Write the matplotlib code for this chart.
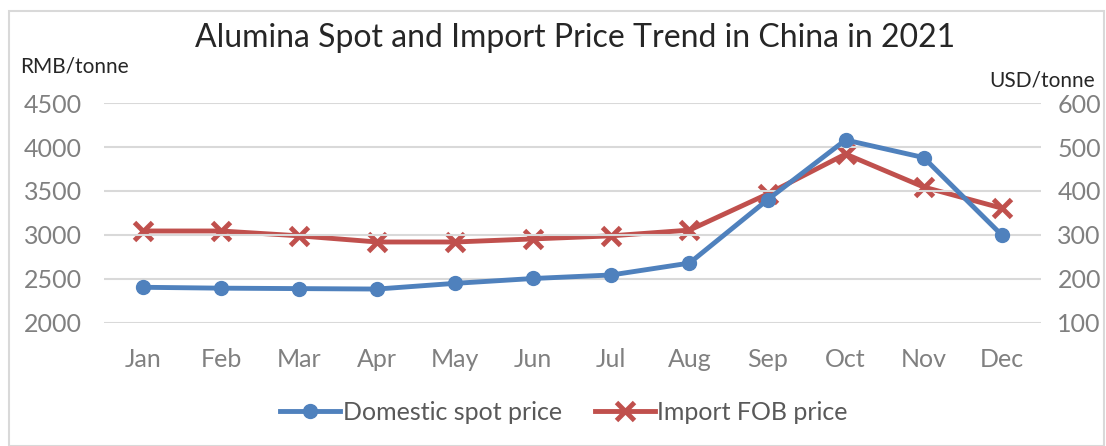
import matplotlib.pyplot as plt
from matplotlib.patches import Rectangle

# ===================================================
# DADOS
# ===================================================

meses = ['Jan', 'Feb', 'Mar', 'Apr', 'May', 'Jun',
         'Jul', 'Aug', 'Sep', 'Oct', 'Nov', 'Dec']

# preço spot doméstico (RMB/tonne)
spot_rmb = [2405, 2395, 2390, 2385, 2450, 2505, 2545, 2680, 3400, 4080, 3880, 3000]

# preço de importação FOB (USD/tonne)
fob_usd = [309, 309, 298, 284, 284, 291, 298, 311, 393, 484, 409, 361]

azul = '#4F81BD'
vermelho = '#C0504D'
cinza = '#808080'

plt.rcParams['font.family'] = ['Lato', 'DejaVu Sans']

# ===================================================
# FIGURA
# ===================================================

fig = plt.figure(figsize=(11.06, 4.46), dpi=100)
ax = fig.add_axes([0.094, 0.276, 0.847, 0.493])
ax2 = ax.twinx()

x = list(range(len(meses)))

l1, = ax.plot(x, spot_rmb, color=azul, linewidth=3.5, marker='o',
              markersize=10, label='Domestic spot price', zorder=3)
l2, = ax2.plot(x, fob_usd, color=vermelho, linewidth=3.5, marker='x',
               markersize=13, markeredgewidth=3.5, label='Import FOB price')

ax.set_zorder(ax2.get_zorder() + 1)
ax.patch.set_visible(False)

ax.set_xlim(-0.5, 11.5)
ax.set_ylim(2000, 4500)
ax2.set_ylim(100, 600)
ax.set_yticks(range(2000, 4501, 500))
ax2.set_yticks(range(100, 601, 100))
ax.set_xticks(x)
ax.set_xticklabels(meses)

ax.grid(axis='y', color='#D9D9D9', linewidth=1.5)
ax.set_axisbelow(True)

for a in (ax, ax2):
    for s in a.spines.values():
        s.set_visible(False)
    a.tick_params(length=0, labelsize=18, labelcolor=cinza)
ax.tick_params(axis='y', pad=16)
ax2.tick_params(axis='y', pad=12)
ax.tick_params(axis='x', pad=18)

fig.text(0.52, 0.915, 'Alumina Spot and Import Price Trend in China in 2021',
         ha='center', va='center', fontsize=23, color='#262626')
fig.text(0.018, 0.85, 'RMB/tonne', ha='left', va='center', fontsize=15,
         color='#262626')
fig.text(0.99, 0.82, 'USD/tonne', ha='right', va='center', fontsize=15,
         color='#262626')

leg = fig.legend(handles=[l1, l2], loc='center', bbox_to_anchor=(0.51, 0.075),
                 ncol=2, frameon=False, fontsize=18, handlelength=2.4,
                 handletextpad=0.1, columnspacing=1.3)
for t in leg.get_texts():
    t.set_color('#595959')

fig.patches.append(Rectangle((0.008, 0.0), 0.99, 0.975, transform=fig.transFigure,
                             fill=False, edgecolor='#D9D9D9', linewidth=1.5))

fig.savefig('out.png', dpi=100)
